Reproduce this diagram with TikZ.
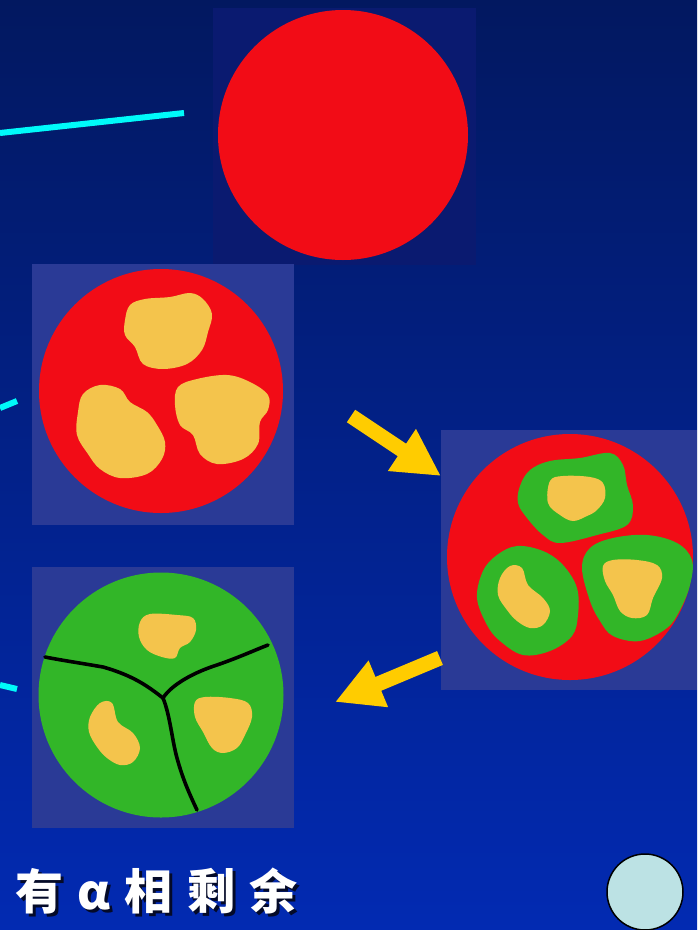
\documentclass[tikz,border=0pt]{standalone}
\usepackage{fontspec}
\newfontfamily\cjk{Noto Sans CJK SC}
\usetikzlibrary{arrows.meta}
\definecolor{bgtop}{RGB}{2,24,96}
\definecolor{bgbot}{RGB}{2,42,178}
\definecolor{paneltop}{RGB}{10,26,112}
\definecolor{panel}{RGB}{42,58,150}
\definecolor{phred}{RGB}{242,12,22}
\definecolor{phyel}{RGB}{244,196,76}
\definecolor{phgrn}{RGB}{50,182,40}
\definecolor{leader}{RGB}{0,250,250}
\definecolor{arrowyel}{RGB}{255,204,0}
\definecolor{knob}{RGB}{188,226,228}
\definecolor{capshade}{RGB}{4,10,40}
\newcommand{\captext}{有α相剩余}
\tikzset{
  panelbox/.style={fill=panel, draw=none},
  disc/.style={circle, inner sep=0pt, minimum size=#1, draw=none},
  grain/.style={fill=phyel, draw=none},
  shell/.style={fill=phgrn, draw=none},
  boundary/.style={draw=black, line width=3.6pt, line cap=round, line join=round},
  leaderline/.style={draw=leader, line width=6pt},
  bigarrow/.style={draw=arrowyel, line width=15pt, -{Triangle[length=47pt,width=47pt]}},
  label/.style={font=\cjk\bfseries\fontsize{48}{50}\selectfont\addfontfeatures{LetterSpace=30}, anchor=west, inner sep=0pt},
}
\begin{document}
\begin{tikzpicture}[x=1pt,y=-1pt]
% background
\shade[top color=bgtop, bottom color=bgbot] (0,0) rectangle (697,930);
\useasboundingbox (0,0) rectangle (697,930);

% ---- panel 1: single red disc ----
\fill[paneltop] (213,8) rectangle (476,265);
\node[disc=250pt, fill=phred] (d1) at (343,135) {};

% ---- panel 2: red disc with three yellow grains ----
\fill[panelbox] (32,264) rectangle (294,525);
\node[disc=244pt, fill=phred] (d2) at (161,391) {};
\fill[grain] plot[smooth cycle, tension=0.6] coordinates {
  (125,320) (130,305) (145,299) (170,297) (190,293) (203,299) (212,314)
  (208,332) (202,350) (187,364) (163,369) (143,364) (135,347) (125,335)};
\fill[grain] plot[smooth cycle, tension=0.6] coordinates {
  (83,394) (100,385) (120,389) (130,402) (147,412) (157,425) (165,442)
  (162,459) (147,474) (120,478) (100,469) (88,454) (77,435) (78,412)};
\fill[grain] plot[smooth cycle, tension=0.6] coordinates {
  (178,387) (197,379) (227,375) (250,382) (268,395) (268,410) (260,422)
  (258,444) (243,459) (217,464) (200,454) (193,435) (180,425) (175,405)};

% ---- panel 3: red disc, grains wrapped in green shells ----
\fill[panelbox] (441,430) rectangle (697,690);
\node[disc=246pt, fill=phred] (d3) at (570,557) {};
\fill[shell] plot[smooth cycle, tension=0.6] coordinates {
  (520,486) (530,470) (550,461) (580,458) (610,453) (623,465) (627,485)
  (633,506) (627,525) (597,535) (560,543) (543,535) (527,518) (518,503)};
\fill[grain] plot[smooth cycle, tension=0.6] coordinates {
  (550,481) (563,476) (590,477) (603,483) (605,498) (597,510) (587,516)
  (573,521) (560,515) (548,503)};
\fill[shell] plot[smooth cycle, tension=0.6] coordinates {
  (483,571) (497,555) (517,546) (543,551) (563,565) (577,588) (578,615)
  (572,636) (550,651) (523,655) (500,641) (487,625) (477,598)};
\fill[grain] plot[smooth cycle, tension=0.6] coordinates {
  (500,578) (510,566) (522,568) (528,585) (543,598) (550,611) (543,625)
  (530,628) (517,621) (507,610) (498,595)};
\fill[shell] plot[smooth cycle, tension=0.6] coordinates {
  (582,568) (590,548) (613,538) (647,535) (677,543) (692,560) (690,585)
  (680,610) (667,628) (640,641) (613,636) (600,621) (590,601)};
\fill[grain] plot[smooth cycle, tension=0.6] coordinates {
  (603,566) (613,560) (637,560) (657,565) (662,578) (653,598) (647,615)
  (632,618) (620,611) (613,595) (605,581)};

% ---- panel 4: green disc split into three grains ----
\fill[panelbox] (32,567) rectangle (294,828);
\node[disc=245pt, fill=phgrn] (d4) at (161,695) {};
\fill[grain] plot[smooth cycle, tension=0.6] coordinates {
  (140,622) (150,614) (177,615) (193,618) (196,630) (190,642) (180,648)
  (175,658) (162,657) (147,650) (139,637)};
\fill[grain] plot[smooth cycle, tension=0.6] coordinates {
  (90,717) (100,703) (112,703) (118,722) (133,733) (140,748) (133,762)
  (120,765) (107,758) (97,747) (89,732)};
\fill[grain] plot[smooth cycle, tension=0.6] coordinates {
  (195,702) (205,697) (230,698) (248,703) (252,717) (245,735) (237,748)
  (223,753) (212,748) (203,732) (195,717)};
\coordinate (jn) at (163,698);
\draw[boundary] (jn) .. controls (150,688) and (135,676) .. (103,667)
  .. controls (80,663) and (60,660) .. (45,657);
\draw[boundary] (jn) .. controls (172,684) and (195,672) .. (217,665)
  .. controls (240,657) and (255,650) .. (268,645);
\draw[boundary] (jn) .. controls (170,715) and (172,740) .. (177,758)
  .. controls (183,780) and (190,795) .. (197,810);

% ---- leader lines from the left ----
\coordinate (l1a) at (0,133); \coordinate (l1b) at (184,113);
\coordinate (l2a) at (0,408); \coordinate (l2b) at (17,401);
\coordinate (l3a) at (0,685); \coordinate (l3b) at (17,689);
\draw[leaderline] (l1a) -- (l1b);
\draw[leaderline] (l2a) -- (l2b);
\draw[leaderline] (l3a) -- (l3b);

% ---- transformation arrows ----
\coordinate (a1s) at (351,416); \coordinate (a1e) at (441,476);
\coordinate (a2s) at (440,658); \coordinate (a2e) at (335,702);
\draw[bigarrow] (a1s) -- (a1e);
\draw[bigarrow] (a2s) -- (a2e);

% ---- caption with drop shadow ----
\node[label] (cap) at (15,893)
  {\rlap{\kern3pt\raisebox{-3pt}{\color{capshade}\captext}}\color{white}\captext};

% ---- round button ----
\node[circle, minimum size=76pt, inner sep=0pt, fill=knob, draw=black, line width=1.5pt] (btn) at (645,892) {};
\end{tikzpicture}
\end{document}
